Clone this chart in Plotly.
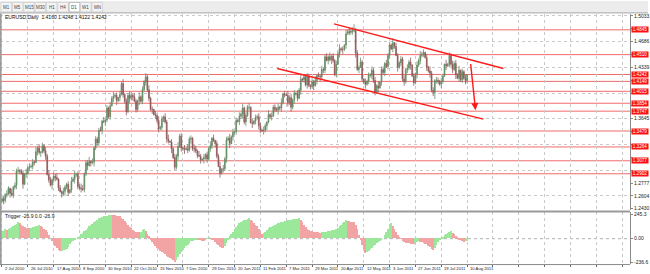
import pandas as pd
import plotly.graph_objects as go

# ---------------- data ----------------
TIMEFRAMES = ["M1", "M5", "M15", "M30", "H1", "H4", "D1", "W1", "MN"]
ACTIVE_TF = "D1"
SYMBOL_TEXT = "EURUSD,Daily  1.4160 1.4248 1.4122 1.4242"
IND_TEXT = "Trigger -26.9 0.0 -26.9"

START_DATE = "2010-07-02"
END_DATE = "2011-08-10"
FIRST_OPEN = 12530  # pips (x 1e-4)

CLOSE_2010_07 = [12565, 12540, 12620, 12630, 12705, 12640, 12615, 12720, 12745, 12940, 12945,
                 12935, 12910, 12760, 12900, 12910, 12985, 12995, 13000, 13060, 13055]
CLOSE_2010_08 = [13200, 13250, 13190, 13195, 13280, 13210, 13140, 12890, 12820, 12750, 12820,
                 12870, 12850, 12830, 12710, 12660, 12630, 12665, 12720, 12760, 12650, 12685]
CLOSE_2010_09 = [12800, 12830, 12890, 12895, 12730, 12710, 12700, 12690, 12900, 13050, 13010,
                 13070, 13050, 13060, 13250, 13370, 13320, 13490, 13485, 13610, 13605, 13630]
CLOSE_2010_10 = [13790, 13670, 13820, 13920, 13950, 13960, 13890, 13930, 13970, 14120, 13970,
                 13880, 13740, 13960, 13920, 13960, 13940, 13880, 13770, 13890, 13940]
CLOSE_2010_11 = [13880, 14040, 14140, 14210, 14035, 13920, 13770, 13770, 13700, 13690, 13620,
                 13510, 13530, 13640, 13670, 13600, 13370, 13340, 13330, 13240, 13120, 12990]
CLOSE_2010_12 = [13140, 13270, 13410, 13250, 13240, 13230, 13240, 13220, 13370, 13380, 13240,
                 13240, 13210, 13150, 13140, 13090, 13100, 13120, 13160, 13100, 13240, 13280, 13380]
CLOSE_2011_01 = [13350, 13310, 13140, 13000, 12910, 12960, 12970, 13100, 13360, 13380, 13310,
                 13400, 13460, 13470, 13620, 13610, 13680, 13710, 13790, 13600, 13690]
CLOSE_2011_02 = [13800, 13800, 13590, 13580, 13610, 13660, 13670, 13550, 13490, 13480, 13490,
                 13550, 13600, 13700, 13670, 13680, 13800, 13770, 13760, 13800]
CLOSE_2011_03 = [13790, 13860, 13980, 13970, 13960, 13860, 13930, 13800, 13900, 13990, 13980,
                 13920, 14030, 14180, 14170, 14210, 14100, 14210, 14090, 14080, 14140, 14090, 14160]
CLOSE_2011_04 = [14230, 14220, 14210, 14310, 14300, 14480, 14430, 14480, 14440, 14490, 14430,
                 14240, 14380, 14520, 14590, 14580, 14580, 14640, 14790, 14820, 14810]
CLOSE_2011_05 = [14830, 14830, 14830, 14530, 14310, 14340, 14410, 14180, 14140, 14110, 14150,
                 14230, 14230, 14300, 14160, 14000, 14090, 14060, 14140, 14310, 14270, 14390]
CLOSE_2011_06 = [14350, 14500, 14640, 14590, 14670, 14620, 14500, 14340, 14400, 14450, 14180,
                 14140, 14310, 14330, 14410, 14370, 14220, 14130, 14250, 14370, 14430, 14500]
CLOSE_2011_07 = [14520, 14540, 14470, 14340, 14290, 14260, 14030, 14000, 14160, 14160, 14150,
                 14110, 14150, 14220, 14380, 14360, 14380, 14500, 14380, 14310, 14390]
CLOSE_2011_08 = [14240, 14190, 14300, 14170, 14280, 14190, 14160, 14242]

# wick sizes, one digit per bar, in tens of pips
UPPER_WICK = ("3425316243 5234162534 2635142536 4253614253 2416352436 5243615243 3526142536 "
              "2415362435 4253162435 3624153624 2536142536 3415263425 4263152436 2514362534 "
              "3625143526 2436152435 4253162534 3526142635 2415362435 4253614253 3526142536 "
              "2415362594 4263152435 3526144253 4261532435 2536142536 3415263425 4253162435 "
              "352614250")
LOWER_WICK = ("2534162435 3426153524 4153623514 2635241536 3524163425 2436152634 4152632415 "
              "3625143526 2514362435 3426153524 4253162435 2536142635 3415263524 4253162435 "
              "2615342536 3524162435 4153623514 2635241536 3524163425 2436152634 4152632415 "
              "3625143526 2514362435 3426153524 4253162435 2536142635 3415263594 4253162435 "
              "261534254")

# "Trigger" oscillator, one value per bar
TRIGGER = [
    70, 78, 90, 86, 95, 102, 110, 124, 136, 148,
    160, 150, 132, 120, 112, 108, 104, 100, 106, 112,
    118, 124, 128, 130, 122, 110, 96, 80, 60, 30,
    0, -30, -58, -80, -100, -118, -130, -126, -122, -116,
    -110, -88, -62, -40, -28, -12, 0, 14, 26, 40,
    56, 72, 88, 104, 120, 134, 148, 162, 176, 188,
    200, 208, 214, 220, 226, 230, 234, 238, 240, 238,
    234, 228, 224, 220, 206, 190, 170, 150, 130, 116,
    100, 84, 70, 66, 62, 60, 68, 80, 90, 70,
    44, 20, -8, -34, -60, -78, -96, -112, -126, -138,
    -150, -164, -176, -190, -200, -210, -222, -236, -216, -188,
    -160, -140, -118, -98, -80, -64, -46, -30, -24, -18,
    -14, -10, -16, -22, -26, -30, -18, -4, 10, 2,
    -8, -20, -38, -56, -72, -86, -94, -100, -74, -44,
    -12, 20, 44, 68, 92, 112, 132, 150, 160, 170,
    180, 188, 194, 200, 188, 172, 156, 138, 120, 96,
    66, 40, 52, 68, 84, 100, 110, 118, 126, 134,
    142, 150, 156, 162, 166, 170, 176, 180, 184, 188,
    190, 194, 196, 198, 200, 182, 160, 136, 112, 94,
    80, 74, 70, 66, 64, 62, 60, 58, 60, 60,
    64, 68, 72, 76, 80, 84, 88, 90, 104, 120,
    136, 152, 168, 180, 176, 172, 168, 164, 160, 130,
    90, 36, -20, -64, -108, -150, -140, -126, -110, -96,
    -80, -66, -52, -38, -24, -12, 0, 30, 62, 94,
    124, 150, 126, 94, 60, 36, 14, -6, -24, -40,
    -44, -48, -52, -56, -58, -60, -50, -40, -30, -36,
    -42, -48, -54, -60, -76, -92, -106, -120, -94, -66,
    -40, -22, -4, 14, 30, 42, 52, 62, 70, 56,
    38, 20, 6, -8, -20, -30, -34, -30, -27,
]
TRIGGER_TICKS = [245.3, 0.0, -236.6]
TRIGGER_TICK_TEXT = ["245.3", "0.00", "-236.6"]

# horizontal support / resistance levels (red lines with labels)
LEVELS = [1.4845, 1.4510, 1.4242, 1.4149, 1.4015, 1.3854, 1.3747, 1.3479, 1.3264, 1.3077, 1.2902]

# price-axis labels
PRICE_TICKS = [1.2430, 1.2604, 1.2777, 1.2951, 1.3124, 1.3298, 1.3471, 1.3645,
               1.3818, 1.3992, 1.4165, 1.4339, 1.4512, 1.4686, 1.4859, 1.5033]
PRICE_GRID = [1.2604, 1.2951, 1.3298, 1.3645, 1.3992, 1.4339, 1.4686, 1.5033]

DATE_LABELS = ["2 Jul 2010", "26 Jul 2010", "17 Aug 2010", "8 Sep 2010", "30 Sep 2010",
               "22 Oct 2010", "15 Nov 2010", "7 Dec 2010", "29 Dec 2010", "20 Jan 2011",
               "11 Feb 2011", "7 Mar 2011", "29 Mar 2011", "20 Apr 2011", "12 May 2011",
               "3 Jun 2011", "27 Jun 2011", "19 Jul 2011", "10 Aug 2011"]

# drawn channel (date index, price) and projection arrow
CHANNEL_UPPER_X = [205.6, 310.5]
CHANNEL_UPPER_Y = [1.4926, 1.4323]
CHANNEL_LOWER_X = [170.4, 298.1]
CHANNEL_LOWER_Y = [1.4323, 1.3639]
ARROW_X = [290.1, 293.2]
ARROW_Y = [1.4403, 1.3760]

# ---------------- build ----------------
W, H = 650, 274
closes_p = (CLOSE_2010_07 + CLOSE_2010_08 + CLOSE_2010_09 + CLOSE_2010_10 + CLOSE_2010_11 +
            CLOSE_2010_12 + CLOSE_2011_01 + CLOSE_2011_02 + CLOSE_2011_03 + CLOSE_2011_04 +
            CLOSE_2011_05 + CLOSE_2011_06 + CLOSE_2011_07 + CLOSE_2011_08)
dates = pd.bdate_range(START_DATE, END_DATE)
n = len(closes_p)
up = [int(ch) for ch in UPPER_WICK.replace(" ", "")]
lo = [int(ch) for ch in LOWER_WICK.replace(" ", "")]
opens_p = [FIRST_OPEN] + closes_p[:-1]
o = [v / 1e4 for v in opens_p]
c = [v / 1e4 for v in closes_p]
h = [(max(a, b) + 10 * u) / 1e4 for a, b, u in zip(opens_p, closes_p, up)]
l = [(min(a, b) - 10 * d) / 1e4 for a, b, d in zip(opens_p, closes_p, lo)]
xi = list(range(n))

date_pos = [int(dates.get_loc(pd.Timestamp(d))) for d in DATE_LABELS]
step = date_pos[1] - date_pos[0]


def py(px):  # pixel row -> paper y
    return 1 - px / H


def pxx(px):
    return px / W


AX_RIGHT = 632 / W
PX_PER_BAR = 1.62
X0_PX = 2.0
xr = [-X0_PX / PX_PER_BAR, (632 - X0_PX) / PX_PER_BAR]
grid_x = list(range(date_pos[0], int(xr[1]) + 1, step))

fig = go.Figure()
fig.add_trace(go.Candlestick(
    x=xi, open=o, high=h, low=l, close=c,
    increasing=dict(line=dict(color="#6a8a6a", width=0.8), fillcolor="#2f962f"),
    decreasing=dict(line=dict(color="#8a6060", width=0.8), fillcolor="#a82424"),
    whiskerwidth=0, xaxis="x", yaxis="y", showlegend=False, hoverinfo="skip"))

bar_colors = ["#9be89b" if (i == 0 or TRIGGER[i] >= TRIGGER[i - 1]) else "#f2a3a3" for i in range(len(TRIGGER))]
fig.add_trace(go.Bar(x=list(range(len(TRIGGER))), y=TRIGGER, marker=dict(color=bar_colors, line=dict(width=0)),
                     width=0.55, xaxis="x2", yaxis="y2", showlegend=False, hoverinfo="skip"))

# channel lines
fig.add_trace(go.Scatter(x=CHANNEL_UPPER_X, y=CHANNEL_UPPER_Y, mode="lines",
                         line=dict(color="#ff1a1a", width=1.4), xaxis="x", yaxis="y",
                         showlegend=False, hoverinfo="skip"))
fig.add_trace(go.Scatter(x=CHANNEL_LOWER_X, y=CHANNEL_LOWER_Y, mode="lines",
                         line=dict(color="#ff1a1a", width=1.4), xaxis="x", yaxis="y",
                         showlegend=False, hoverinfo="skip"))

shapes = []
annotations = []
font = "Liberation Sans, Arial, sans-serif"

# level lines
for lv in LEVELS:
    shapes.append(dict(type="line", xref="paper", yref="y", x0=0, x1=AX_RIGHT, y0=lv, y1=lv,
                       line=dict(color="#f26a6a", width=1), layer="below"))
    annotations.append(dict(xref="paper", yref="y", x=AX_RIGHT + 1 / W, y=lv, text=f"{lv:.4f}",
                            showarrow=False, xanchor="left", yanchor="middle",
                            font=dict(family=font, size=4.6, color="white"),
                            bgcolor="#ff1010", borderpad=0, width=16, height=5))

# arrow
annotations.append(dict(xref="x", yref="y", axref="x", ayref="y", x=ARROW_X[1], y=ARROW_Y[1],
                        ax=ARROW_X[0], ay=ARROW_Y[0], showarrow=True, arrowhead=2, arrowsize=1,
                        arrowwidth=1.4, arrowcolor="#ff1a1a", text=""))

# toolbar
shapes.append(dict(type="rect", xref="paper", yref="paper", x0=0, x1=1, y0=py(12), y1=1,
                   fillcolor="#ececec", line=dict(width=0), layer="below"))
shapes.append(dict(type="line", xref="paper", yref="paper", x0=0, x1=1, y0=py(12), y1=py(12),
                   line=dict(color="#a8a8a8", width=1)))
bx = 1.0
for tf in TIMEFRAMES:
    bw = 11.4
    active = tf == ACTIVE_TF
    shapes.append(dict(type="rect", xref="paper", yref="paper", x0=pxx(bx), x1=pxx(bx + bw - 0.8),
                       y0=py(11), y1=py(1.5),
                       fillcolor="#ffffff" if active else "#f3f3f3",
                       line=dict(color="#9a9a9a" if active else "#c4c4c4", width=0.6)))
    annotations.append(dict(xref="paper", yref="paper", x=pxx(bx + (bw - 0.8) / 2), y=py(6.3), text=tf,
                            showarrow=False, xanchor="center", yanchor="middle",
                            font=dict(family=font, size=4.5, color="#444")))
    bx += bw

# panel frame lines
shapes.append(dict(type="line", xref="paper", yref="paper", x0=0, x1=AX_RIGHT, y0=py(212), y1=py(212),
                   line=dict(color="#9a9a9a", width=2)))
shapes.append(dict(type="line", xref="paper", yref="paper", x0=pxx(0.8), x1=pxx(0.8), y0=py(266), y1=py(12.5),
                   line=dict(color="#9a9a9a", width=1.6)))
shapes.append(dict(type="line", xref="paper", yref="paper", x0=0, x1=AX_RIGHT, y0=py(265.5), y1=py(265.5),
                   line=dict(color="#8a8a8a", width=1)))
shapes.append(dict(type="line", xref="paper", yref="y2", x0=0, x1=AX_RIGHT, y0=0, y1=0,
                   line=dict(color="#b0b0b0", width=1, dash="dot"), layer="below"))

# texts
annotations.append(dict(xref="paper", yref="paper", x=pxx(3), y=py(16), text=SYMBOL_TEXT, showarrow=False,
                        xanchor="left", yanchor="middle", font=dict(family=font, size=5, color="#111")))
annotations.append(dict(xref="paper", yref="paper", x=pxx(3), y=py(216.5), text=IND_TEXT, showarrow=False,
                        xanchor="left", yanchor="middle", font=dict(family=font, size=5, color="#111")))
for lab, pos in zip(DATE_LABELS, date_pos):
    annotations.append(dict(xref="x2", yref="paper", x=pos, y=py(269.5), text=lab, showarrow=False,
                            xanchor="left", yanchor="middle", xshift=1,
                            font=dict(family=font, size=4.2, color="#222")))

# price labels hidden behind the red level labels are left blank
price_text = [("" if any(abs(t - lv) < 0.0067 for lv in LEVELS) else f"{t:.4f}") for t in PRICE_TICKS]

ymain = [1.5033 + 2 * 0.00134, 1.5033 - 196 * 0.00134]
grid_style = dict(showgrid=True, gridcolor="#c9c9c9", griddash="dot", gridwidth=1)

fig.update_layout(
    width=W, height=H, margin=dict(l=0, r=0, t=0, b=0),
    paper_bgcolor="white", plot_bgcolor="white",
    shapes=shapes, annotations=annotations, bargap=0,
    xaxis=dict(domain=[0, AX_RIGHT], range=xr, anchor="y", rangeslider=dict(visible=False),
               tickvals=grid_x, showticklabels=False, ticks="", zeroline=False, showline=False,
               fixedrange=True, **grid_style),
    yaxis=dict(domain=[py(211), py(13)], range=[ymain[1], ymain[0]], side="right", anchor="x",
               tickvals=PRICE_TICKS, ticktext=price_text,
               tickfont=dict(family=font, size=5, color="#222"), ticks="outside", ticklen=2,
               tickcolor="#888", showline=True, linecolor="#8a8a8a", linewidth=1, zeroline=False,
               showgrid=False,
               minor=dict(tickvals=PRICE_GRID, showgrid=True, gridcolor="#c9c9c9", griddash="dot", ticks=""),
               fixedrange=True),
    xaxis2=dict(domain=[0, AX_RIGHT], range=xr, anchor="y2", matches="x",
                tickvals=grid_x, showticklabels=False, ticks="outside", ticklen=2, tickcolor="#666",
                zeroline=False, showline=False, fixedrange=True, **grid_style),
    yaxis2=dict(domain=[py(265), py(213)], range=[-256.7, 265.4], side="right", anchor="x2",
                tickvals=TRIGGER_TICKS, ticktext=TRIGGER_TICK_TEXT,
                tickfont=dict(family=font, size=5, color="#222"), ticks="outside", ticklen=2,
                tickcolor="#888", showline=True, linecolor="#8a8a8a", linewidth=1,
                zeroline=False, showgrid=False, fixedrange=True),
)

fig.write_html("out.html")
